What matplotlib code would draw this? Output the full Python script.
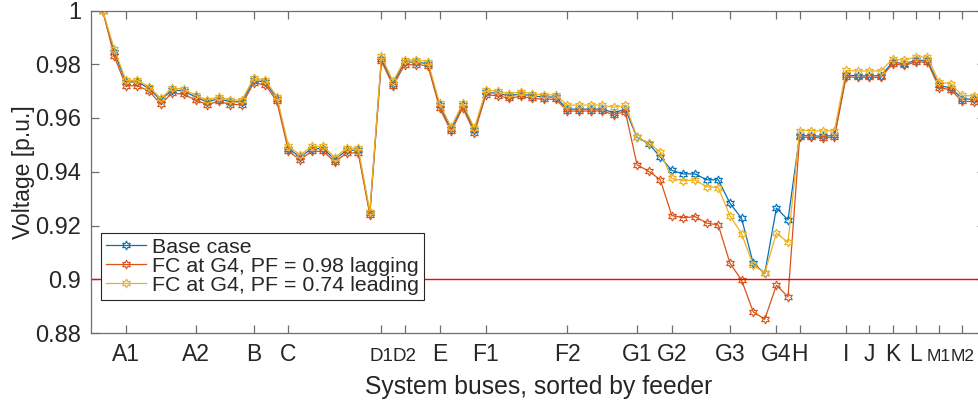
import matplotlib
matplotlib.use("Agg")
import matplotlib.pyplot as plt
import numpy as np

# Bus voltages (p.u.), buses ordered by feeder
base_case = [
    1.0000, 0.9845, 0.9734, 0.9734, 0.9710, 0.9666, 0.9705, 0.9700, 0.9678, 0.9660,
    0.9672, 0.9660, 0.9660, 0.9740, 0.9734, 0.9672, 0.9486, 0.9455, 0.9486, 0.9486,
    0.9445, 0.9480, 0.9480, 0.9246, 0.9820, 0.9728, 0.9808, 0.9808, 0.9802, 0.9647,
    0.9558, 0.9647, 0.9554, 0.9695, 0.9692, 0.9682, 0.9690, 0.9682, 0.9678, 0.9678,
    0.9633, 0.9633, 0.9633, 0.9633, 0.9620, 0.9632, 0.9528, 0.9505, 0.9455, 0.9405,
    0.9392, 0.9392, 0.9370, 0.9370, 0.9283, 0.9227, 0.9060, 0.9022, 0.9265, 0.9221,
    0.9534, 0.9534, 0.9532, 0.9535, 0.9759, 0.9757, 0.9757, 0.9757, 0.9808, 0.9802,
    0.9814, 0.9814, 0.9721, 0.9712, 0.9672, 0.9669,
]
fc_lagging = [
    1.0000, 0.9830, 0.9720, 0.9720, 0.9700, 0.9652, 0.9693, 0.9688, 0.9667, 0.9650,
    0.9662, 0.9650, 0.9650, 0.9730, 0.9724, 0.9662, 0.9476, 0.9445, 0.9476, 0.9476,
    0.9436, 0.9470, 0.9470, 0.9240, 0.9812, 0.9720, 0.9798, 0.9798, 0.9795, 0.9638,
    0.9550, 0.9638, 0.9545, 0.9686, 0.9683, 0.9673, 0.9681, 0.9673, 0.9670, 0.9670,
    0.9626, 0.9626, 0.9626, 0.9626, 0.9613, 0.9624, 0.9426, 0.9402, 0.9371, 0.9237,
    0.9229, 0.9233, 0.9209, 0.9202, 0.9060, 0.8997, 0.8879, 0.8851, 0.8978, 0.8935,
    0.9528, 0.9528, 0.9526, 0.9528, 0.9753, 0.9751, 0.9751, 0.9751, 0.9801, 0.9796,
    0.9808, 0.9808, 0.9713, 0.9705, 0.9662, 0.9661,
]
fc_leading = [
    1.0000, 0.9857, 0.9740, 0.9740, 0.9717, 0.9673, 0.9712, 0.9707, 0.9685, 0.9667,
    0.9679, 0.9667, 0.9667, 0.9748, 0.9741, 0.9680, 0.9494, 0.9463, 0.9494, 0.9494,
    0.9453, 0.9488, 0.9488, 0.9252, 0.9830, 0.9736, 0.9816, 0.9816, 0.9810, 0.9655,
    0.9566, 0.9655, 0.9562, 0.9703, 0.9700, 0.9690, 0.9698, 0.9690, 0.9686, 0.9686,
    0.9648, 0.9648, 0.9648, 0.9648, 0.9640, 0.9647, 0.9530, 0.9507, 0.9474, 0.9375,
    0.9367, 0.9369, 0.9344, 0.9341, 0.9236, 0.9170, 0.9053, 0.9024, 0.9172, 0.9137,
    0.9553, 0.9553, 0.9551, 0.9553, 0.9777, 0.9775, 0.9775, 0.9775, 0.9820, 0.9815,
    0.9827, 0.9827, 0.9734, 0.9727, 0.9684, 0.9682,
]

# Feeder labels and the bus positions they mark
feeder_labels = ["A1", "A2", "B", "C", "D1", "D2", "E", "F1", "F2", "G1",
                 "G2", "G3", "G4", "H", "I", "J", "K", "L", "M1", "M2"]
feeder_ticks = [3, 9, 14, 17, 25, 27, 30, 34, 41, 47,
                50, 55, 59, 61, 65, 67, 69, 71, 73, 75]

y_ticks = [0.88, 0.90, 0.92, 0.94, 0.96, 0.98, 1.00]
y_tick_labels = ["0.88", "0.9", "0.92", "0.94", "0.96", "0.98", "1"]
voltage_limit = 0.9

series_labels = ["Base case",
                 "FC at G4, PF = 0.98 lagging",
                 "FC at G4, PF = 0.74 leading"]
series_colors = ["#0072BD", "#D95319", "#EDB120"]

plt.rcParams["font.family"] = ["Liberation Sans", "DejaVu Sans"]

W, H = 979, 409
fig = plt.figure(figsize=(W / 100, H / 100), dpi=100)
ax_left, ax_right, ax_top, ax_bottom = 91, 985.5, 10.5, 333
ax = fig.add_axes([ax_left / W, 1 - ax_bottom / H,
                   (ax_right - ax_left) / W, (ax_bottom - ax_top) / H])

buses = np.arange(1, len(base_case) + 1)
hexagram = (6, 1, 0)
for vals, lab, col in zip([base_case, fc_lagging, fc_leading], series_labels, series_colors):
    ax.plot(buses, vals, color=col, lw=0.9, marker=hexagram, ms=6.5,
            mfc="none", mec=col, mew=0.8, label=lab)

ax.axhline(voltage_limit, color="#FF0000", lw=1.0)

ax.set_xlim(0, 77)
ax.set_ylim(0.88, 1.0)
ax.set_xticks(feeder_ticks)
ax.set_xticklabels(feeder_labels)
ax.set_yticks(y_ticks)
ax.set_yticklabels(y_tick_labels)

axis_gray = "#262626"
for sp in ax.spines.values():
    sp.set_color("#6e6e6e")
    sp.set_linewidth(0.9)
ax.tick_params(axis="both", which="major", direction="in", length=5.5, width=0.9,
               color="#6e6e6e", labelcolor=axis_gray, top=True, right=True)
ax.tick_params(axis="x", pad=20.5, labelsize=16.5)
ax.tick_params(axis="y", pad=7, labelsize=17)

# feeder labels share one baseline; closely spaced ones are set smaller so they stay apart
tight_sizes = {"D1": 13.5, "D2": 13.5, "M1": 12.5, "M2": 12.5}
for t in ax.get_xticklabels():
    t.set_verticalalignment("baseline")
    if t.get_text() in tight_sizes:
        t.set_fontsize(tight_sizes[t.get_text()])

ax.set_xlabel("System buses, sorted by feeder", fontsize=17.8, color=axis_gray, labelpad=6)
ax.set_ylabel("Voltage [p.u.]", fontsize=16.5, color=axis_gray)
ax.yaxis.set_label_coords((35 - ax_left) / (ax_right - ax_left), 0.5)

leg = ax.legend(loc="lower left",
                bbox_to_anchor=((101 - ax_left) / (ax_right - ax_left),
                                (ax_bottom - 300) / (ax_bottom - ax_top)),
                borderaxespad=0, fontsize=15.4, frameon=True, fancybox=False,
                framealpha=1, edgecolor="#262626", handlelength=1.85,
                handletextpad=0.28, borderpad=0.24, labelspacing=0.0)
leg.get_frame().set_linewidth(0.8)
for t in leg.get_texts():
    t.set_color(axis_gray)

fig.savefig("out.png", dpi=100)
